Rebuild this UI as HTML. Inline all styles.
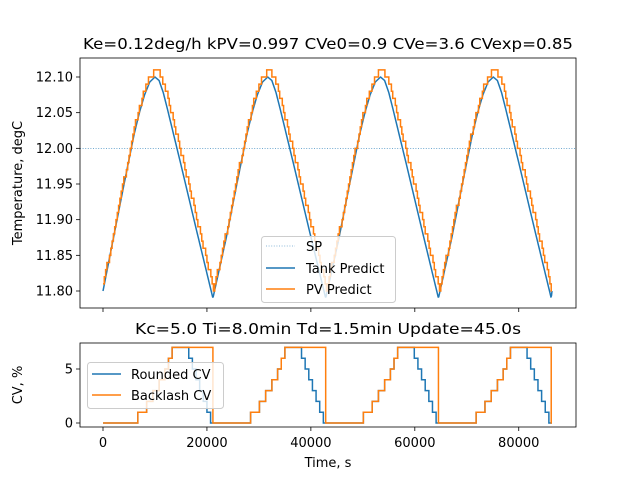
<!DOCTYPE html>
<html><head><meta charset="utf-8"><style>
body{margin:0;background:#fff}
svg{font-family:"DejaVu Sans","Liberation Sans",sans-serif}
</style></head><body>
<svg id="c" width="640" height="480" xmlns="http://www.w3.org/2000/svg"></svg>
<script>
// ---- data ----
const cycleStarts = [0, 21700, 43400, 65100];
const tankTimes = [0, 2000, 4000, 6000, 7000, 8000, 9000, 10000, 10800, 11600, 12400, 15000, 18000, 21150];
const tankValues = [11.80, 11.874, 11.948, 12.02, 12.05, 12.075, 12.093, 12.10, 12.095, 12.078, 12.055, 11.977, 11.885, 11.79];
const setpoint = 12.0;
const roundedCvTimes = [0, 6700, 8400, 9600, 10800, 11900, 12600, 13300, 16500, 17200, 17900, 18600, 19300, 20000, 20700];
const roundedCvValues = [0, 1, 2, 3, 4, 5, 6, 7, 6, 5, 4, 3, 2, 1, 0];
const backlashCvTimes = [0, 6700, 8400, 9600, 10800, 11900, 12600, 13300, 21150];
const backlashCvValues = [0, 1, 2, 3, 4, 5, 6, 7, 0];
const endTime = 86400;
const topTicks = [11.80, 11.85, 11.90, 11.95, 12.00, 12.05, 12.10];
const botTicks = [0, 5];
const xTicks = [0, 20000, 40000, 60000, 80000];

const NS = "http://www.w3.org/2000/svg";
const svg = document.getElementById('c');
function el(tag, attrs, parent, text){const e=document.createElementNS(NS,tag);for(const k in attrs)e.setAttribute(k,attrs[k]);if(text!==undefined)e.textContent=text;(parent||svg).appendChild(e);return e;}

const X0=80,X1=576;
const x = t => 103 + t*(552-103)/86400;
const yT = v => 291 - (v-11.80)*(214/0.30);
const yB = v => 423 - v*10.8;

const tankT=[],tankV=[];
cycleStarts.forEach((s,ci)=>{tankTimes.forEach((tt,i)=>{ if(ci>0&&i===0)return; tankT.push(s+tt); tankV.push(tankValues[i]);});});
tankT.push(endTime); tankV.push(11.80);
function tankAt(t){ if(t<=tankT[0])return tankV[0]; for(let i=1;i<tankT.length;i++){ if(t<=tankT[i]){const f=(t-tankT[i-1])/(tankT[i]-tankT[i-1]);return tankV[i-1]+f*(tankV[i]-tankV[i-1]);} } return tankV[tankV.length-1]; }

const defs=el('defs',{});
const cp1=el('clipPath',{id:'cp1'},defs); el('rect',{x:X0,y:58,width:X1-X0,height:250},cp1);
const cp2=el('clipPath',{id:'cp2'},defs); el('rect',{x:X0,y:343,width:X1-X0,height:84},cp2);

let e=el('text',{x:328,y:49,'text-anchor':'middle','font-size':15.5,textLength:490,lengthAdjust:'spacingAndGlyphs'},svg,'Ke=0.12deg/h kPV=0.997 CVe0=0.9 CVe=3.6 CVexp=0.85');

e=el('text',{x:328,y:334,'text-anchor':'middle','font-size':15.5,textLength:386,lengthAdjust:'spacingAndGlyphs'},svg,'Kc=5.0 Ti=8.0min Td=1.5min Update=45.0s');


const gT=el('g',{});

topTicks.forEach(v=>{el('line',{x1:X0-4,x2:X0,y1:yT(v),y2:yT(v),stroke:'#000','stroke-width':0.8},gT);
 const t=el('text',{x:X0-7,y:yT(v)+4.5,'text-anchor':'end','font-size':13},gT,v.toFixed(2));
 });
xTicks.forEach(v=>{el('line',{x1:x(v),x2:x(v),y1:308,y2:312,stroke:'#000','stroke-width':0.8},gT);});
e=el('text',{x:22,y:183,'text-anchor':'middle','font-size':13,transform:'rotate(-90 22 183)'},svg,'Temperature, degC');


const sp=el('line',{x1:X0,x2:X1,y1:yT(setpoint),y2:yT(setpoint),stroke:'#1f77b4','stroke-width':0.6,'stroke-dasharray':'1,1.6'});


let d='';
for(let t=0;t<=endTime;t+=100){d+=(t?'L':'M')+x(t).toFixed(2)+','+yT(tankAt(t)).toFixed(2);}
e=el('path',{d:d,fill:'none',stroke:'#1f77b4','stroke-width':1.5,'stroke-linejoin':'round','clip-path':'url(#cp1)'});


// PV predict: quantized (ceiling) tank, slightly lagged on the falling side
let pd='',prev=null;
for(let t=0;t<=endTime;t+=250){
 const rising = tankAt(t+50)>=tankAt(t-50);
 const v=Math.ceil(tankAt(rising?t:t-300)*100+0.3)/100;
 if(prev===null){pd='M'+x(t).toFixed(2)+','+yT(v).toFixed(2);} else if(v!==prev){pd+='L'+x(t).toFixed(2)+','+yT(prev).toFixed(2)+'L'+x(t).toFixed(2)+','+yT(v).toFixed(2);} prev=v;}
pd+='L'+x(endTime).toFixed(2)+','+yT(prev).toFixed(2);
e=el('path',{d:pd,fill:'none',stroke:'#ff7f0e','stroke-width':1.5,'clip-path':'url(#cp1)'});

el('rect',{x:X0,y:58,width:X1-X0,height:250,fill:'none',stroke:'#000','stroke-width':0.8});

const lg=el('g',{});

el('rect',{x:261.5,y:236.5,width:134,height:66,rx:3,fill:'#fff','fill-opacity':0.8,stroke:'#ccc'},lg);
el('line',{x1:266,x2:295,y1:246,y2:246,stroke:'#1f77b4','stroke-width':0.6,'stroke-dasharray':'1,1.6'},lg);
el('text',{x:306,y:251,'font-size':13},lg,'SP');
el('line',{x1:266,x2:295,y1:268,y2:268,stroke:'#1f77b4','stroke-width':1.5},lg);
el('text',{x:306,y:273,'font-size':13},lg,'Tank Predict');
el('line',{x1:266,x2:295,y1:289,y2:289,stroke:'#ff7f0e','stroke-width':1.5},lg);
el('text',{x:306,y:294,'font-size':13},lg,'PV Predict');

const gB=el('g',{});

botTicks.forEach(v=>{el('line',{x1:X0-4,x2:X0,y1:yB(v),y2:yB(v),stroke:'#000','stroke-width':0.8},gB);
 const t=el('text',{x:X0-7,y:yB(v)+4.5,'text-anchor':'end','font-size':13},gB,String(v));
 });
xTicks.forEach(v=>{el('line',{x1:x(v),x2:x(v),y1:427,y2:431,stroke:'#000','stroke-width':0.8},gB);
 const t=el('text',{x:x(v),y:447,'text-anchor':'middle','font-size':13},gB,String(v));
 });
e=el('text',{x:328,y:467,'text-anchor':'middle','font-size':13},svg,'Time, s');

e=el('text',{x:22,y:385,'text-anchor':'middle','font-size':13,transform:'rotate(-90 22 385)'},svg,'CV, %');


function stepPath(times,vals){let d='',pv=null;
 cycleStarts.forEach(s=>{times.forEach((tt,i)=>{const t=s+tt,v=vals[i];
  if(pv===null)d='M'+x(t).toFixed(2)+','+yB(v).toFixed(2);
  else d+='L'+x(t).toFixed(2)+','+yB(pv).toFixed(2)+'L'+x(t).toFixed(2)+','+yB(v).toFixed(2);pv=v;});});
 d+='L'+x(endTime).toFixed(2)+','+yB(pv).toFixed(2);return d;}
e=el('path',{d:stepPath(roundedCvTimes,roundedCvValues),fill:'none',stroke:'#1f77b4','stroke-width':1.5,'clip-path':'url(#cp2)'});

e=el('path',{d:stepPath(backlashCvTimes,backlashCvValues),fill:'none',stroke:'#ff7f0e','stroke-width':1.5,'clip-path':'url(#cp2)'});

el('rect',{x:X0,y:343,width:X1-X0,height:84,fill:'none',stroke:'#000','stroke-width':0.8});

const lb=el('g',{});

el('rect',{x:87.5,y:362.5,width:136,height:46,rx:3,fill:'#fff','fill-opacity':0.8,stroke:'#ccc'},lb);
el('line',{x1:92,x2:121,y1:374,y2:374,stroke:'#1f77b4','stroke-width':1.5},lb);
el('text',{x:131,y:379,'font-size':13},lb,'Rounded CV');
el('line',{x1:92,x2:121,y1:395,y2:395,stroke:'#ff7f0e','stroke-width':1.5},lb);
el('text',{x:131,y:400,'font-size':13},lb,'Backlash CV');
</script>
</body></html>
